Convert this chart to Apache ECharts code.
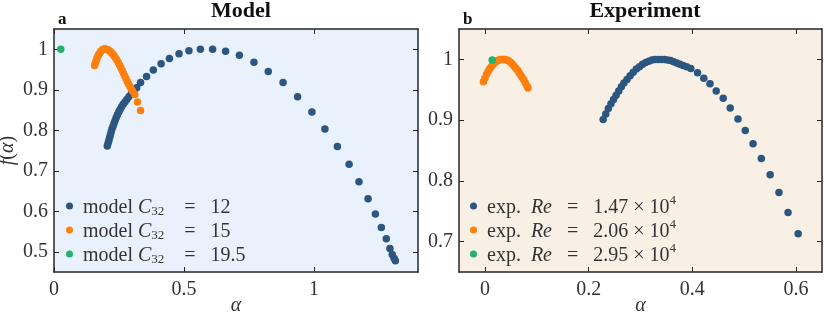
<!DOCTYPE html>
<html>
<head>
<meta charset="utf-8">
<script src="https://cdn.jsdelivr.net/npm/echarts@6/dist/echarts.min.js"></script>
<style>html,body{margin:0;padding:0;background:#fff}#c{width:824px;height:312px}</style>
</head>
<body>
<div id="c"></div>
<script>
// ---------- data ----------
const panelTitles = ['Model', 'Experiment'];
const panelLetters = ['a', 'b'];

const xTicksA = [0, 0.5, 1];
const yTicksA = [0.5, 0.6, 0.7, 0.8, 0.9, 1];
const xTicksB = [0, 0.2, 0.4, 0.6];
const yTicksB = [0.7, 0.8, 0.9, 1];

const namesA = ['model C32 = 12', 'model C32 = 15', 'model C32 = 19.5'];
const namesB = ['exp. Re = 1.47e4', 'exp. Re = 2.06e4', 'exp. Re = 2.95e4'];
const legendTextA = ['{n| model }{i|C}{s|32}{n|    =   12}', '{n| model }{i|C}{s|32}{n|    =   15}', '{n| model }{i|C}{s|32}{n|    =   19.5}'];
const legendTextB = ['{n| exp.  }{i|Re}{n|   =   1.47 × 10}{p|4}', '{n| exp.  }{i|Re}{n|   =   2.06 × 10}{p|4}', '{n| exp.  }{i|Re}{n|   =   2.95 × 10}{p|4}'];

const modelC12 = [[0.205,0.761],[0.208,0.768],[0.211,0.775],[0.214,0.782],[0.217,0.789],[0.220,0.796],[0.223,0.803],[0.227,0.810],[0.231,0.817],[0.235,0.824],[0.239,0.831],[0.244,0.838],[0.249,0.845],[0.254,0.851],[0.260,0.858],[0.266,0.864],[0.273,0.870],[0.280,0.876],[0.288,0.883],[0.297,0.890],[0.307,0.897],[0.318,0.905],[0.333,0.918],[0.356,0.933],[0.382,0.949],[0.412,0.964],[0.444,0.977],[0.481,0.989],[0.519,0.996],[0.563,1.0],[0.610,1.0],[0.660,0.995],[0.713,0.985],[0.769,0.968],[0.824,0.945],[0.881,0.918],[0.937,0.883],[0.992,0.845],[1.042,0.803],[1.090,0.760],[1.135,0.716],[1.173,0.673],[1.208,0.631],[1.236,0.593],[1.259,0.560],[1.278,0.532],[1.292,0.508],[1.301,0.493],[1.308,0.484],[1.313,0.478]];
const modelC15 = [[0.156,0.960],[0.159,0.966],[0.162,0.972],[0.165,0.977],[0.168,0.982],[0.172,0.987],[0.176,0.991],[0.180,0.995],[0.185,0.998],[0.190,1.0],[0.196,1.001],[0.202,1.0],[0.207,0.999],[0.212,0.997],[0.217,0.994],[0.222,0.991],[0.227,0.987],[0.232,0.983],[0.237,0.978],[0.242,0.973],[0.247,0.967],[0.252,0.961],[0.257,0.955],[0.262,0.948],[0.267,0.941],[0.272,0.934],[0.277,0.927],[0.282,0.920],[0.287,0.914],[0.292,0.908],[0.297,0.902],[0.302,0.897],[0.311,0.888],[0.321,0.870],[0.333,0.849]];
const modelC195 = [[0.026,1.0]];

const expRe147 = [[0.228,0.901],[0.233,0.910],[0.238,0.919],[0.243,0.927],[0.248,0.934],[0.253,0.941],[0.258,0.948],[0.263,0.955],[0.268,0.961],[0.274,0.967],[0.280,0.973],[0.286,0.979],[0.292,0.984],[0.298,0.988],[0.304,0.992],[0.310,0.995],[0.316,0.997],[0.322,0.999],[0.328,1.0],[0.334,1.0],[0.340,1.0],[0.346,1.0],[0.352,0.999],[0.358,0.998],[0.364,0.996],[0.370,0.994],[0.376,0.992],[0.382,0.990],[0.389,0.988],[0.397,0.985],[0.410,0.978],[0.422,0.969],[0.434,0.960],[0.446,0.948],[0.4595,0.936],[0.473,0.920],[0.488,0.902],[0.502,0.883],[0.517,0.861],[0.533,0.837],[0.550,0.810],[0.567,0.781],[0.5845,0.748],[0.604,0.713]];
const expRe206 = [[-0.003,0.963],[0.000,0.969],[0.003,0.975],[0.006,0.980],[0.009,0.984],[0.012,0.988],[0.015,0.991],[0.018,0.994],[0.021,0.996],[0.024,0.998],[0.027,0.999],[0.030,1.0],[0.033,1.0],[0.036,1.0],[0.039,1.0],[0.042,0.999],[0.045,0.998],[0.048,0.996],[0.051,0.994],[0.054,0.991],[0.057,0.988],[0.060,0.985],[0.063,0.982],[0.066,0.978],[0.069,0.974],[0.072,0.970],[0.075,0.966],[0.078,0.961],[0.081,0.956],[0.083,0.953]];
const expRe295 = [[0.014,0.999]];

// ---------- styling ----------
const colors = ['#2b5680', '#ff7f0e', '#1fb36b'];
const FONT = "'Liberation Serif', 'DejaVu Serif', serif";
const TXT = '#333';
const LINE = '#262626';

function axisCommon(extra) {
  return Object.assign({
    type: 'value',
    axisLine: {show: true, onZero: false, lineStyle: {color: LINE, width: 1.5}},
    axisTick: {show: true, inside: true, length: 5, lineStyle: {color: LINE, width: 1}},
    splitLine: {show: false},
    axisLabel: {show: false},
    nameMoveOverlap: false
  }, extra);
}
function labelStyle(vals, margin) {
  return {show: true, customValues: vals, fontFamily: FONT, fontSize: 20, color: TXT, margin: margin};
}
const rich = {
  n: {fontFamily: FONT, fontSize: 20, color: TXT, lineHeight: 24, verticalAlign: 'bottom'},
  i: {fontFamily: FONT, fontSize: 20, fontStyle: 'italic', color: TXT, lineHeight: 24, verticalAlign: 'bottom'},
  s: {fontFamily: FONT, fontSize: 13, color: TXT, lineHeight: 13, verticalAlign: 'bottom'},
  p: {fontFamily: FONT, fontSize: 13, color: TXT, lineHeight: 13, verticalAlign: 'top'}
};

function legendFor(names, texts, left) {
  const map = {};
  names.forEach((n, k) => map[n] = texts[k]);
  return {
    data: names, orient: 'vertical', left: left, top: 194, itemGap: 0, padding: 0,
    icon: 'circle', itemWidth: 7, itemHeight: 7, selectedMode: false,
    formatter: n => map[n],
    textStyle: {fontFamily: FONT, fontSize: 20, color: TXT, lineHeight: 22, rich: rich}
  };
}

function sc(name, data, k, xi, yi) {
  return {name: name, type: 'scatter', data: data, xAxisIndex: xi, yAxisIndex: yi,
    symbol: 'circle', symbolSize: 7.5, itemStyle: {color: colors[k], opacity: 1}, z: 2 + k,
    emphasis: {disabled: true}, silent: true};
}

const chart = echarts.init(document.getElementById('c'), null, {renderer: 'canvas'});
chart.setOption({
  animation: false,
  title: [
    {text: panelTitles[0], left: 236, top: -5, textAlign: 'center', textStyle: {fontFamily: FONT, fontWeight: 'bold', fontSize: 22, color: '#111'}},
    {text: panelTitles[1], left: 640, top: -5, textAlign: 'center', textStyle: {fontFamily: FONT, fontWeight: 'bold', fontSize: 22, color: '#111'}},
    {text: panelLetters[0], left: 53, top: 6, textStyle: {fontFamily: FONT, fontWeight: 'bold', fontSize: 17, color: '#111'}},
    {text: panelLetters[1], left: 458, top: 6, textStyle: {fontFamily: FONT, fontWeight: 'bold', fontSize: 17, color: '#111'}}
  ],
  grid: [
    {left: 54, right: 406, top: 29, bottom: 40, show: true, backgroundColor: '#e9f1fc', borderWidth: 0, containLabel: false, outerBoundsMode: 'none'},
    {left: 459, right: 2, top: 29, bottom: 40, show: true, backgroundColor: '#f9f0e5', borderWidth: 0, containLabel: false, outerBoundsMode: 'none'}
  ],
  xAxis: [
    axisCommon({gridIndex: 0, position: 'bottom', min: 0, max: 1.4,
      axisTick: {show: true, inside: true, length: 5, customValues: xTicksA, lineStyle: {color: LINE}},
      axisLabel: labelStyle(xTicksA, 8),
      name: 'α', nameLocation: 'middle', nameGap: 24,
      nameTextStyle: {fontFamily: FONT, fontSize: 20, fontStyle: 'italic', color: TXT}}),
    axisCommon({gridIndex: 0, position: 'top', min: 0, max: 1.4,
      axisTick: {show: true, inside: true, length: 5, customValues: xTicksA, lineStyle: {color: LINE}}}),
    axisCommon({gridIndex: 1, position: 'bottom', min: -0.05, max: 0.65,
      axisTick: {show: true, inside: true, length: 5, customValues: xTicksB, lineStyle: {color: LINE}},
      axisLabel: labelStyle(xTicksB, 8),
      name: 'α', nameLocation: 'middle', nameGap: 24,
      nameTextStyle: {fontFamily: FONT, fontSize: 20, fontStyle: 'italic', color: TXT}}),
    axisCommon({gridIndex: 1, position: 'top', min: -0.05, max: 0.65,
      axisTick: {show: true, inside: true, length: 5, customValues: xTicksB, lineStyle: {color: LINE}}})
  ],
  yAxis: [
    axisCommon({gridIndex: 0, position: 'left', min: 0.45, max: 1.05,
      axisTick: {show: true, inside: true, length: 5, customValues: yTicksA, lineStyle: {color: LINE}},
      axisLabel: labelStyle(yTicksA, 6),
      name: '{i|f}{n|(}{i|α}{n|)}', nameLocation: 'middle', nameGap: 36, nameRotate: 90,
      nameTextStyle: {rich: rich}}),
    axisCommon({gridIndex: 0, position: 'right', min: 0.45, max: 1.05,
      axisTick: {show: true, inside: true, length: 5, customValues: yTicksA, lineStyle: {color: LINE}}}),
    axisCommon({gridIndex: 1, position: 'left', min: 0.65, max: 1.05,
      axisTick: {show: true, inside: true, length: 5, customValues: yTicksB, lineStyle: {color: LINE}},
      axisLabel: labelStyle(yTicksB, 6)}),
    axisCommon({gridIndex: 1, position: 'right', min: 0.65, max: 1.05,
      axisTick: {show: true, inside: true, length: 5, customValues: yTicksB, lineStyle: {color: LINE}}})
  ],
  legend: [legendFor(namesA, legendTextA, 66), legendFor(namesB, legendTextB, 470)],
  series: [
    sc(namesA[0], modelC12, 0, 0, 0),
    sc(namesA[1], modelC15, 1, 0, 0),
    sc(namesA[2], modelC195, 2, 0, 0),
    sc(namesB[0], expRe147, 0, 2, 2),
    sc(namesB[1], expRe206, 1, 2, 2),
    sc(namesB[2], expRe295, 2, 2, 2)
  ]
});
</script>
</body>
</html>
